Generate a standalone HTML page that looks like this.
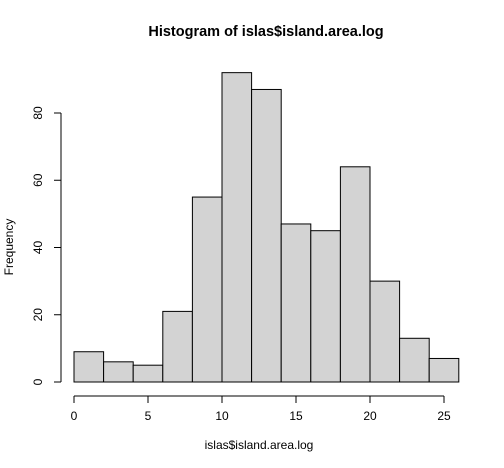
<!DOCTYPE html>
<html><head><meta charset="utf-8"><style>
body{margin:0;background:#fff}
svg{display:block;font-family:"Liberation Sans",Arial,sans-serif}
</style></head><body>
<svg id="chart" width="504" height="468" viewBox="0 0 504 468">
<text x="266" y="36" text-anchor="middle" font-size="14.5" font-weight="bold">Histogram of islas$island.area.log</text>
<text x="259" y="449" text-anchor="middle" font-size="12">islas$island.area.log</text>
<text transform="translate(13,247) rotate(-90)" text-anchor="middle" font-size="12">Frequency</text>
<g id="bars"></g><g id="xaxis"></g><g id="yaxis"></g>
</svg>
<script>
const binEdges=[0,2,4,6,8,10,12,14,16,18,20,22,24,26];
const counts=[9,6,5,21,55,92,87,47,45,64,30,13,7];
const xTicks=[0,5,10,15,20,25];
const yTicks=[0,20,40,60,80];
const NS="http://www.w3.org/2000/svg";
function xs(v){return 74+v*14.8;}
function ys(v){return 382-v*3.3625;}
function mk(tag,attrs,parent){const e=document.createElementNS(NS,tag);for(const k in attrs)e.setAttribute(k,attrs[k]);parent.appendChild(e);return e;}
const bars=document.getElementById('bars');
counts.forEach((c,i)=>{
 const r=mk('rect',{x:xs(binEdges[i]),y:ys(c),width:xs(binEdges[i+1])-xs(binEdges[i]),height:ys(0)-ys(c),fill:'#d3d3d3',stroke:'#000','stroke-width':1},bars);
 
 
});
const xa=document.getElementById('xaxis');
const xl=mk('line',{x1:xs(xTicks[0]),x2:xs(xTicks[xTicks.length-1]),y1:396,y2:396,stroke:'#000'},xa);


xTicks.forEach(t=>{
 mk('line',{x1:xs(t),x2:xs(t),y1:396,y2:403,stroke:'#000'},xa);
 const tx=mk('text',{x:xs(t),y:420,'text-anchor':'middle','font-size':12},xa);
 tx.textContent=t;
 
 
});
const ya=document.getElementById('yaxis');
const yl=mk('line',{x1:61,x2:61,y1:ys(yTicks[0]),y2:ys(yTicks[yTicks.length-1]),stroke:'#000'},ya);


yTicks.forEach(t=>{
 mk('line',{x1:54,x2:61,y1:ys(t),y2:ys(t),stroke:'#000'},ya);
 const tx=mk('text',{transform:'translate(42,'+ys(t)+') rotate(-90)','text-anchor':'middle','font-size':12},ya);
 tx.textContent=t;
 
 
});
</script>
</body></html>
